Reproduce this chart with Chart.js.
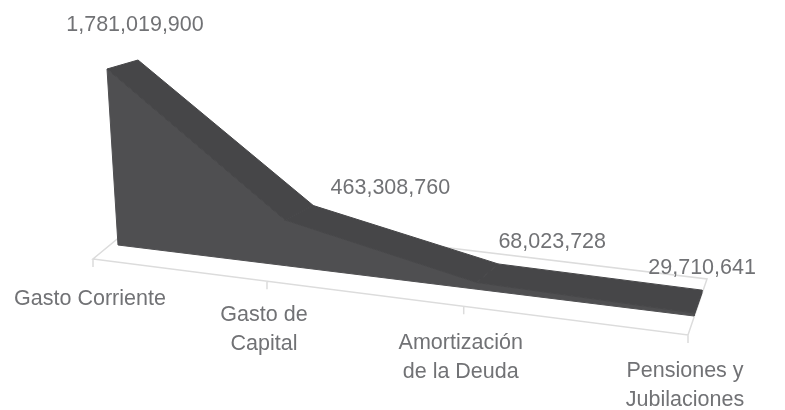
<!DOCTYPE html>
<html>
<head>
<meta charset="utf-8">
<title>Gasto</title>
<script src="https://cdn.jsdelivr.net/npm/chart.js@4/dist/chart.umd.min.js"></script>
<style>
    html, body { margin: 0; padding: 0; background: #fff; }
    canvas { display: block; filter: blur(0.45px); }
</style>
</head>
<body>
<canvas id="gastoChart" width="785" height="410"></canvas>
<script>
// Values
const categories = [['Gasto Corriente'], ['Gasto de', 'Capital'], ['Amortización', 'de la Deuda'], ['Pensiones y', 'Jubilaciones']];
const gastoValues = [1781019900, 463308760, 68023728, 29710641];
const valueLabels = ['1,781,019,900', '463,308,760', '68,023,728', '29,710,641'];

const FRONT_COLOR = '#4f4f51';
const TOP_COLOR = '#464648';
const FLOOR_COLOR = '#dcdcdc';
const TEXT_COLOR = '#717275';
const FONT = '21.5px "Liberation Sans"';

// 3D look: corners of the floor and of the band, in canvas pixels
const view = {
    perspective: 1.21,
    backPerspective: 1.167,
    floorFront: [[93, 259], [688, 335]],
    floorBack: [[150, 212], [707, 279]],
    bandFront: [[118, 245], [694, 316]],
    bandBack: [[149, 232], [702, 293]],
    lean: [-11, 6],
    rise: 176,
    backRise: 172,
    tickLength: 8,
    labelDrop: [40, 34, 37, 36],
    labelLine: 29,
    valueShift: [[-3, -35], [77, -17], [54, -22], [0, -22]]
};

function lerp(a, b, t) {
    return a + (b - a) * t;
}

function lerpPoint(edge, t) {
    return [lerp(edge[0][0], edge[1][0], t), lerp(edge[0][1], edge[1][1], t)];
}

// Category position to position along the receding axis
function alongAxis(chart, index, perspective) {
    const x = chart.scales.x;
    const t = (x.getPixelForValue(index) - x.left) / x.width;
    return t / (t + perspective * (1 - t));
}

function heightOf(chart, value) {
    const y = chart.scales.y;
    return (y.bottom - y.getPixelForValue(value)) / y.height;
}

function bandPoint(chart, index, value, edge, rise, perspective) {
    const t = alongAxis(chart, index, perspective);
    const h = heightOf(chart, value);
    const base = lerpPoint(edge, t);
    return [base[0] + lerp(view.lean[0], view.lean[1], t) * h, base[1] - rise * h];
}

function frontPoint(chart, index, value) {
    return bandPoint(chart, index, value, view.bandFront, view.rise, view.perspective);
}

function backPoint(chart, index, value) {
    return bandPoint(chart, index, value, view.bandBack, view.backRise, view.backPerspective);
}

function fillShape(ctx, points, color) {
    ctx.beginPath();
    points.forEach((p, i) => (i === 0 ? ctx.moveTo(p[0], p[1]) : ctx.lineTo(p[0], p[1])));
    ctx.closePath();
    ctx.fillStyle = color;
    ctx.fill();
    ctx.strokeStyle = color;
    ctx.lineWidth = 1;
    ctx.lineJoin = 'round';
    ctx.stroke();
}

function drawFloor(chart, ctx) {
    const front = view.floorFront;
    const back = view.floorBack;
    ctx.strokeStyle = FLOOR_COLOR;
    ctx.lineWidth = 1.5;
    ctx.beginPath();
    ctx.moveTo(back[0][0], back[0][1]);
    ctx.lineTo(front[0][0], front[0][1]);
    ctx.lineTo(front[1][0], front[1][1]);
    ctx.lineTo(back[1][0], back[1][1]);
    ctx.lineTo(back[0][0], back[0][1]);
    categories.forEach((c, i) => {
        const p = lerpPoint(front, alongAxis(chart, i, view.perspective));
        ctx.moveTo(p[0], p[1]);
        ctx.lineTo(p[0], p[1] + view.tickLength);
    });
    ctx.stroke();
}

function drawBand(chart, ctx) {
    const values = chart.data.datasets[0].data;
    const last = values.length - 1;
    const frontTop = values.map((v, i) => frontPoint(chart, i, v));
    const backTop = values.map((v, i) => backPoint(chart, i, v));
    const frontBase = values.map((v, i) => frontPoint(chart, i, 0));
    const backBase = values.map((v, i) => backPoint(chart, i, 0));

    // end wall, then the front wall, then the sloped top
    fillShape(ctx, [frontTop[last], backTop[last], backBase[last], frontBase[last]], TOP_COLOR);
    fillShape(ctx, frontTop.concat(frontBase.slice().reverse()), FRONT_COLOR);
    for (let i = 0; i < last; i++) {
        fillShape(ctx, [frontTop[i], backTop[i], backTop[i + 1], frontTop[i + 1]], TOP_COLOR);
    }
}

function drawTexts(chart, ctx) {
    const values = chart.data.datasets[0].data;
    ctx.font = FONT;
    ctx.fillStyle = TEXT_COLOR;
    ctx.textAlign = 'center';
    ctx.textBaseline = 'middle';

    chart.data.labels.forEach((lines, i) => {
        const p = lerpPoint(view.floorFront, alongAxis(chart, i, view.perspective));
        lines.forEach((line, n) => {
            ctx.fillText(line, p[0] - 3, p[1] + view.labelDrop[i] + n * view.labelLine);
        });
    });

    valueLabels.forEach((text, i) => {
        const p = backPoint(chart, i, values[i]);
        ctx.fillText(text, p[0] + view.valueShift[i][0], p[1] + view.valueShift[i][1]);
    });
}

const area3d = {
    id: 'area3d',
    afterDatasetsDraw(chart) {
        const ctx = chart.ctx;
        ctx.save();
        drawFloor(chart, ctx);
        drawBand(chart, ctx);
        drawTexts(chart, ctx);
        ctx.restore();
    }
};

new Chart(document.getElementById('gastoChart').getContext('2d'), {
    type: 'line',
    data: {
        labels: categories,
        datasets: [{
            label: 'Gasto',
            data: gastoValues,
            showLine: false,
            pointRadius: 0
        }]
    },
    options: {
        responsive: false,
        animation: false,
        layout: { padding: 0 },
        plugins: {
            legend: { display: false },
            tooltip: { enabled: false }
        },
        scales: {
            x: { display: false, offset: false },
            y: { display: false, min: 0, max: gastoValues[0] }
        }
    },
    plugins: [area3d]
});
</script>
</body>
</html>
